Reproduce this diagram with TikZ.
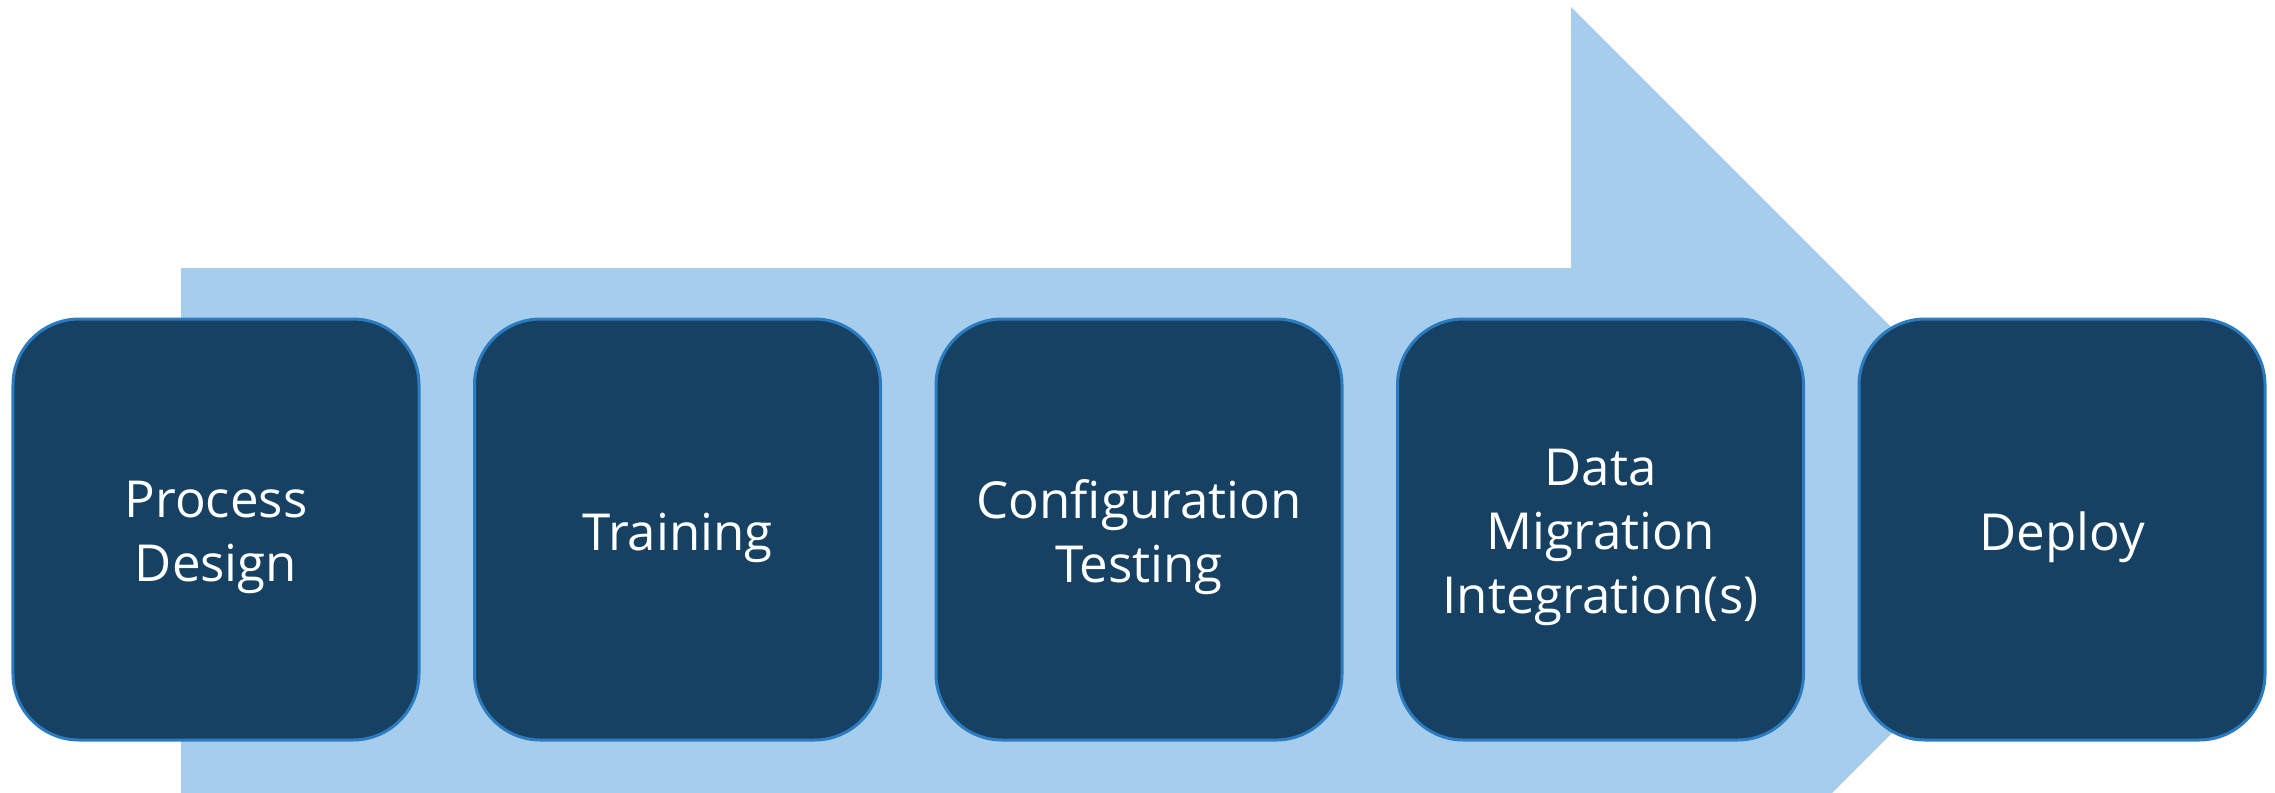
\documentclass[tikz,border=0pt]{standalone}
\usepackage{fontspec}
\setmainfont{Open Sans}
\definecolor{arrowblue}{HTML}{A6CEEC}
\definecolor{boxfill}{HTML}{164163}
\definecolor{boxline}{HTML}{2A7BC0}
\tikzset{
  stepbox/.style={draw=boxline, line width=3bp, fill=boxfill, rounded corners=66bp,
    minimum width=406bp, minimum height=421bp, inner sep=0pt},
  steptext/.style={text=white, align=center, inner sep=0pt,
    font=\fontsize{51bp}{64bp}\selectfont}
}
\begin{document}
\begin{tikzpicture}[x=1bp,y=-1bp]
\useasboundingbox (0,0) rectangle (2275,792);
\begin{scope}
\clip (0,0) rectangle (2275,792);
\fill[arrowblue] (181,268) -- (1571,268) -- (1571,7) -- (2094.5,530.5) -- (1571,1054) -- (1571,793) -- (181,793) -- cycle;
\end{scope}
\node[stepbox] (b1) at (216,529.5) {};
\node[stepbox] (b2) at (677.5,529.5) {};
\node[stepbox] (b3) at (1139,529.5) {};
\node[stepbox] (b4) at (1600.5,529.5) {};
\node[stepbox] (b5) at (2062,529.5) {};
\node[steptext] (t1) at ([yshift=-8bp]b1.center) {Process\\Design};
\node[steptext] (t2) at ([yshift=-8bp]b2.center) {Training};
\node[steptext] (t3) at ([yshift=-8bp]b3.center) {Configuration\\Testing};
\node[steptext] (t4) at ([yshift=-8bp]b4.center) {Data\\Migration\\Integration(s)};
\node[steptext] (t5) at ([yshift=-8bp]b5.center) {Deploy};
\end{tikzpicture}
\end{document}
